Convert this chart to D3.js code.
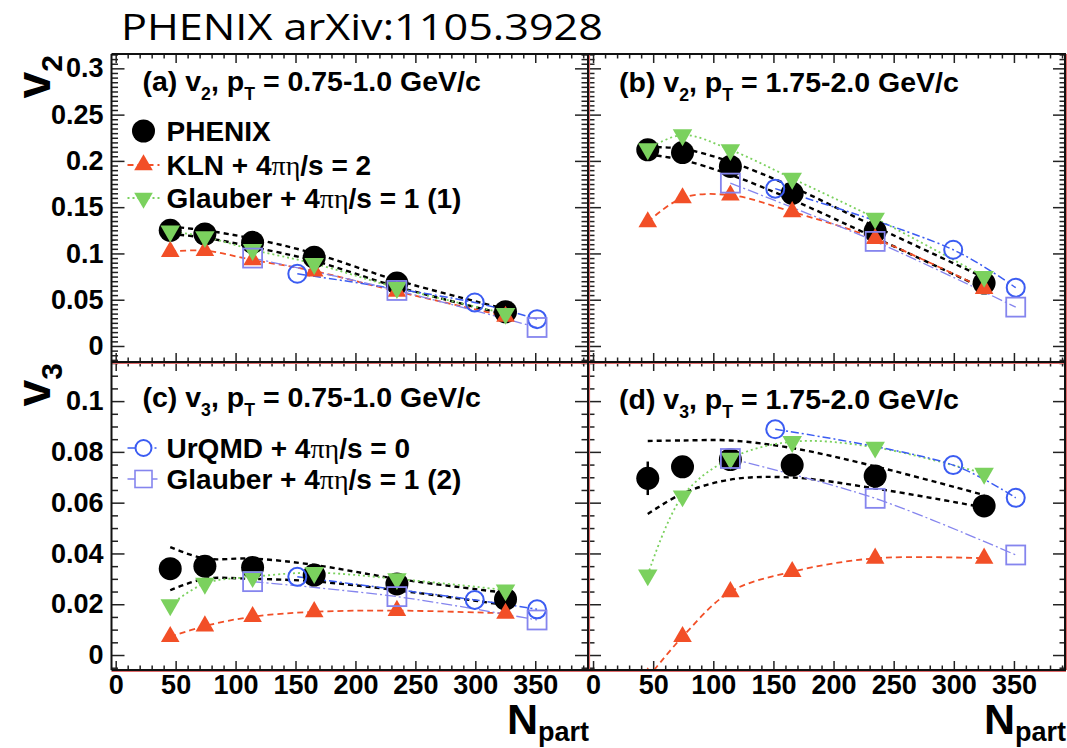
<!DOCTYPE html>
<html><head><meta charset="utf-8">
<script src="https://cdn.jsdelivr.net/npm/d3@7"></script>
<style>body{margin:0;background:#fff}svg{display:block}</style>
</head><body>
<svg id="c" width="1067" height="748"></svg>
<script>
// ---------------- DATA ----------------
const npart = [45.5, 74.4, 114.2, 165.6, 234.6, 325.2];       // PHENIX, KLN, Glauber(1)
const npartUrqmd = [151.5, 299.5, 351.5];
const npartGlauber2 = [114.2, 234.6, 351.5];

// (a) v2, pT = 0.75-1.0
const aPhenix   = [0.125, 0.121, 0.112, 0.096, 0.068, 0.037];
const aErr      = [0.003, 0.003, 0.003, 0.002, 0.002, 0.002];
const aBandHi   = [0.129, 0.125, 0.116, 0.100, 0.071, 0.040];
const aBandLo   = [0.121, 0.117, 0.107, 0.092, 0.064, 0.034];
const aKln      = [0.102, 0.103, 0.093, 0.081, 0.059, 0.032];
const aGlauber1 = [0.124, 0.118, 0.104, 0.089, 0.063, 0.035];
const aUrqmd    = [0.078, 0.047, 0.029];
const aGlauber2 = [0.095, 0.060, 0.020];

// (b) v2, pT = 1.75-2.0
const bPhenix   = [0.212, 0.209, 0.194, 0.165, 0.124, 0.068];
const bErr      = [0.004, 0.004, 0.003, 0.003, 0.003, 0.003];
const bBandHi   = [0.215, 0.213, 0.199, 0.172, 0.129, 0.074];
const bBandLo   = [0.207, 0.201, 0.185, 0.158, 0.117, 0.062];
const bKln      = [0.134, 0.160, 0.163, 0.145, 0.116, 0.062];
const bGlauber1 = [0.213, 0.228, 0.212, 0.181, 0.138, 0.075];
const bUrqmd    = [0.170, 0.104, 0.063];
const bGlauber2 = [0.176, 0.113, 0.042];

// (c) v3, pT = 0.75-1.0
const cPhenix   = [0.0340, 0.0350, 0.0345, 0.0315, 0.0280, 0.0220];
const cErr      = [0.0030, 0.0025, 0.0020, 0.0020, 0.0020, 0.0020];
const cBandHi   = [0.0425, 0.0380, 0.0380, 0.0355, 0.0300, 0.0245];
const cBandLo   = [0.0255, 0.0300, 0.0300, 0.0290, 0.0255, 0.0197];
const cKln      = [0.0072, 0.0114, 0.0151, 0.0170, 0.0175, 0.0164];
const cGlauber1 = [0.0197, 0.0282, 0.0308, 0.0324, 0.0300, 0.0256];
const cUrqmd    = [0.0308, 0.0217, 0.0180];
const cGlauber2 = [0.0289, 0.0230, 0.0138];

// (d) v3, pT = 1.75-2.0
const dPhenix   = [0.0696, 0.0741, 0.0770, 0.0748, 0.0705, 0.0587];
const dErr      = [0.0066, 0.0030, 0.0030, 0.0030, 0.0030, 0.0030];
const dBandHi   = [0.0843, 0.0845, 0.0845, 0.0815, 0.0743, 0.0630];
const dBandLo   = [0.0555, 0.0636, 0.0691, 0.0699, 0.0656, 0.0581];
const dKln      = [-0.0090, 0.0072, 0.0249, 0.0328, 0.0381, 0.0381];
const dGlauber1 = [0.0315, 0.0626, 0.0774, 0.0840, 0.0818, 0.0715];
const dUrqmd    = [0.0889, 0.0748, 0.0619];
const dGlauber2 = [0.0774, 0.0617, 0.0394];

// ticks
const xTicks = [0, 50, 100, 150, 200, 250, 300, 350];
const xTickLabels = ["0", "50", "100", "150", "200", "250", "300", "350"];
const v2Ticks = [0, 0.05, 0.1, 0.15, 0.2, 0.25, 0.3];
const v2TickLabels = ["0", "0.05", "0.1", "0.15", "0.2", "0.25", "0.3"];
const v3Ticks = [0, 0.02, 0.04, 0.06, 0.08, 0.1];
const v3TickLabels = ["0", "0.02", "0.04", "0.06", "0.08", "0.1"];

const legendTop = ["PHENIX", "KLN + 4|πη|/s = 2", "Glauber + 4|πη|/s = 1 (1)"];
const legendBottom = ["UrQMD + 4|πη|/s = 0", "Glauber + 4|πη|/s = 1 (2)"];

// ---------------- LAYOUT / STYLE ----------------
const svg = d3.select("#c");
const FX = [111.5, 588, 1066];
const FY = [54, 362, 670];
const xDomains = [[-3.5, 394], [-4.2, 393.3]];
const yDomains = [[-0.0173, 0.3155], [-0.0059, 0.1154]];
const FONT = "'Liberation Sans', Arial, Helvetica, sans-serif";

const ST = {
  phenix:   {color: "#000"},
  kln:      {color: "#f24f27", dash: "6,4", width: 1.8},
  glauber1: {color: "#7bd15e", dash: "2,3", width: 1.8},
  urqmd:    {color: "#3b5cf2", dash: "8,3,2,3", width: 1.5},
  glauber2: {color: "#8585ee", dash: "11,3,2,3", width: 1.3},
  band:     {color: "#000", dash: "5,4", width: 2.4}
};

function richText(sel, parts, size) {
  parts.forEach(p => {
    const t = sel.append("tspan").text(p.t);
    if (p.sub) t.attr("font-size", size * 0.62).attr("dy", size * 0.3);
    else if (p.back) t.attr("dy", -size * 0.3);
    if (p.greek) t.attr("font-family", "'Liberation Serif', 'DejaVu Serif', serif").attr("font-weight", "normal");
  });
}
function legendParts(label) {
  return label.split("|").map((s, i) => ({t: s, greek: i % 2 === 1}));
}

const panels = [
  {id: "a", col: 0, row: 0, yt: v2Ticks, ytl: v2TickLabels, minorStep: 0.005, majorEvery: 10,
   d: {ph: aPhenix, err: aErr, hi: aBandHi, lo: aBandLo, kln: aKln, g1: aGlauber1, ur: aUrqmd, g2: aGlauber2},
   title: ["(a) v", "2", ", p", "T", " = 0.75-1.0 GeV/c"], ty: 91},
  {id: "b", col: 1, row: 0, yt: v2Ticks, ytl: v2TickLabels, minorStep: 0.005, majorEvery: 10,
   d: {ph: bPhenix, err: bErr, hi: bBandHi, lo: bBandLo, kln: bKln, g1: bGlauber1, ur: bUrqmd, g2: bGlauber2},
   title: ["(b) v", "2", ", p", "T", " = 1.75-2.0 GeV/c"], ty: 92},
  {id: "c", col: 0, row: 1, yt: v3Ticks, ytl: v3TickLabels, minorStep: 0.005, majorEvery: 4,
   d: {ph: cPhenix, err: cErr, hi: cBandHi, lo: cBandLo, kln: cKln, g1: cGlauber1, ur: cUrqmd, g2: cGlauber2},
   title: ["(c) v", "3", ", p", "T", " = 0.75-1.0 GeV/c"], ty: 407},
  {id: "d", col: 1, row: 1, yt: v3Ticks, ytl: v3TickLabels, minorStep: 0.005, majorEvery: 4,
   d: {ph: dPhenix, err: dErr, hi: dBandHi, lo: dBandLo, kln: dKln, g1: dGlauber1, ur: dUrqmd, g2: dGlauber2},
   title: ["(d) v", "3", ", p", "T", " = 1.75-2.0 GeV/c"], ty: 409}
];

const defs = svg.append("defs");

function styleAxis(a) {
  a.select(".domain").remove();
  a.attr("font-family", FONT).attr("font-size", 27).attr("font-weight", "bold");
  a.selectAll("line").attr("stroke", "#222").attr("stroke-width", 1.5);
  a.selectAll("text").attr("fill", "#000");
  return a;
}

panels.forEach(p => {
  const x0 = FX[p.col], x1 = FX[p.col + 1], y0 = FY[p.row], y1 = FY[p.row + 1];
  const x = d3.scaleLinear().domain(xDomains[p.col]).range([x0, x1]);
  const y = d3.scaleLinear().domain(yDomains[p.row]).range([y1, y0]);
  const g = svg.append("g");

  defs.append("clipPath").attr("id", "clip" + p.id).append("rect")
    .attr("x", x0).attr("y", y0).attr("width", x1 - x0).attr("height", y1 - y0);

  const yd = yDomains[p.row];
  const yMinor = d3.range(Math.ceil(yd[0] / p.minorStep), Math.floor(yd[1] / p.minorStep) + 1)
    .filter(i => i % p.majorEvery !== 0).map(i => i * p.minorStep);
  const xMinor = d3.range(0, 40).filter(i => i % 5 !== 0).map(i => i * 10);

  styleAxis(g.append("g").attr("transform", `translate(0,${y1})`)
    .call(d3.axisBottom(x).tickValues(xTicks).tickSize(-9).tickPadding(5)
      .tickFormat((d, i) => p.row === 1 ? xTickLabels[i] : "")));
  styleAxis(g.append("g").attr("transform", `translate(0,${y1})`)
    .call(d3.axisBottom(x).tickValues(xMinor).tickSize(-4.5).tickFormat("")));
  styleAxis(g.append("g").attr("transform", `translate(0,${y0})`)
    .call(d3.axisTop(x).tickValues(xTicks).tickSize(-9).tickFormat("")));
  styleAxis(g.append("g").attr("transform", `translate(0,${y0})`)
    .call(d3.axisTop(x).tickValues(xMinor).tickSize(-4.5).tickFormat("")));
  styleAxis(g.append("g").attr("transform", `translate(${x0},0)`)
    .call(d3.axisLeft(y).tickValues(p.yt).tickSize(-13).tickPadding(8)
      .tickFormat((d, i) => p.col === 0 ? p.ytl[i] : "")));
  styleAxis(g.append("g").attr("transform", `translate(${x0},0)`)
    .call(d3.axisLeft(y).tickValues(yMinor).tickSize(-6.5).tickFormat("")));
  styleAxis(g.append("g").attr("transform", `translate(${x1},0)`)
    .call(d3.axisRight(y).tickValues(p.yt).tickSize(-13).tickFormat("")));
  styleAxis(g.append("g").attr("transform", `translate(${x1},0)`)
    .call(d3.axisRight(y).tickValues(yMinor).tickSize(-6.5).tickFormat("")));

  const plot = g.append("g").attr("clip-path", `url(#clip${p.id})`);
  const curve = (xs, ys) => d3.line().x((d, i) => x(xs[i])).y(d => y(d))
    .curve(d3.curveCatmullRom.alpha(0.5))(ys);
  const drawLine = (xs, ys, st) => plot.append("path").attr("d", curve(xs, ys))
    .attr("fill", "none").attr("stroke", st.color).attr("stroke-width", st.width)
    .attr("stroke-dasharray", st.dash);

  drawLine(npart, p.d.hi, ST.band);
  drawLine(npart, p.d.lo, ST.band);
  drawLine(npart, p.d.kln, ST.kln);
  drawLine(npart, p.d.g1, ST.glauber1);
  drawLine(npartUrqmd, p.d.ur, ST.urqmd);
  drawLine(npartGlauber2, p.d.g2, ST.glauber2);

  p.d.ph.forEach((v, i) => {
    plot.append("line").attr("x1", x(npart[i])).attr("x2", x(npart[i]))
      .attr("y1", y(v - p.d.err[i])).attr("y2", y(v + p.d.err[i]))
      .attr("stroke", "#000").attr("stroke-width", 2.5);
  });
  plot.selectAll(null).data(p.d.ph).join("circle")
    .attr("cx", (d, i) => x(npart[i])).attr("cy", d => y(d)).attr("r", 11.5).attr("fill", "#000");

  const tri = d3.symbol().type(d3.symbolTriangle).size(150);
  plot.selectAll(null).data(p.d.kln).join("path").attr("d", tri)
    .attr("transform", (d, i) => `translate(${x(npart[i])},${y(d)})`).attr("fill", ST.kln.color);
  const tri2 = d3.symbol().type(d3.symbolTriangle).size(165);
  plot.selectAll(null).data(p.d.g1).join("path").attr("d", tri2)
    .attr("transform", (d, i) => `translate(${x(npart[i])},${y(d)}) rotate(180)`).attr("fill", ST.glauber1.color);
  plot.selectAll(null).data(p.d.ur).join("circle")
    .attr("cx", (d, i) => x(npartUrqmd[i])).attr("cy", d => y(d)).attr("r", 9)
    .attr("fill", "none").attr("stroke", ST.urqmd.color).attr("stroke-width", 2);
  plot.selectAll(null).data(p.d.g2).join("rect")
    .attr("x", (d, i) => x(npartGlauber2[i]) - 9.5).attr("y", d => y(d) - 9.5)
    .attr("width", 19).attr("height", 19)
    .attr("fill", "none").attr("stroke", ST.glauber2.color).attr("stroke-width", 1.8);

  const tt = g.append("text").attr("x", x0 + 31).attr("y", p.ty)
    .attr("font-family", FONT).attr("font-weight", "bold").attr("font-size", 28.5).attr("fill", "#000");
  richText(tt, [{t: p.title[0]}, {t: p.title[1], sub: true}, {t: p.title[2], back: true},
                {t: p.title[3], sub: true}, {t: p.title[4], back: true}], 28.5);
});

// frame
const fr = svg.append("g");
[[FX[0], FY[1] + 1.5, FX[2], FY[1] + 1.5], [FX[0], FY[2] + 1.5, FX[2], FY[2] + 1.5],
 [FX[1] + 1.5, FY[0], FX[1] + 1.5, FY[2]], [FX[2] + 0.5, FY[0], FX[2] + 0.5, FY[2]]]
  .forEach(l => fr.append("line").attr("x1", l[0]).attr("y1", l[1]).attr("x2", l[2]).attr("y2", l[3])
    .attr("stroke", "#e06a6a").attr("stroke-width", 1.2));
[[FX[0], FY[0], FX[2], FY[0]], [FX[0], FY[1], FX[2], FY[1]], [FX[0], FY[2], FX[2], FY[2]],
 [FX[0], FY[0], FX[0], FY[2]], [FX[1], FY[0], FX[1], FY[2]], [FX[2] - 1, FY[0], FX[2] - 1, FY[2]]]
  .forEach(l => fr.append("line").attr("x1", l[0]).attr("y1", l[1]).attr("x2", l[2]).attr("y2", l[3])
    .attr("stroke", "#111").attr("stroke-width", 2));

// legends
function legendRow(cx, cy, label, kind) {
  const lg = svg.append("g");
  const st = ST[kind];
  if (kind !== "phenix") {
    lg.append("line").attr("x1", cx - 16).attr("x2", cx + 16).attr("y1", cy).attr("y2", cy)
      .attr("stroke", st.color).attr("stroke-width", st.width).attr("stroke-dasharray", st.dash);
  }
  if (kind === "phenix") lg.append("circle").attr("cx", cx).attr("cy", cy).attr("r", 11.5).attr("fill", "#000");
  if (kind === "kln") lg.append("path").attr("d", d3.symbol().type(d3.symbolTriangle).size(150))
    .attr("transform", `translate(${cx},${cy})`).attr("fill", st.color);
  if (kind === "glauber1") lg.append("path").attr("d", d3.symbol().type(d3.symbolTriangle).size(150))
    .attr("transform", `translate(${cx},${cy}) rotate(180)`).attr("fill", st.color);
  if (kind === "urqmd") lg.append("circle").attr("cx", cx).attr("cy", cy).attr("r", 8)
    .attr("fill", "#fff").attr("stroke", st.color).attr("stroke-width", 2);
  if (kind === "glauber2") lg.append("rect").attr("x", cx - 8.5).attr("y", cy - 8.5).attr("width", 17).attr("height", 17)
    .attr("fill", "#fff").attr("stroke", st.color).attr("stroke-width", 1.6);
  const t = lg.append("text").attr("x", cx + 23).attr("y", cy + 10)
    .attr("font-family", FONT).attr("font-weight", "bold").attr("font-size", 28).attr("fill", "#000");
  richText(t, legendParts(label), 28);
}
legendRow(143.5, 131, legendTop[0], "phenix");
legendRow(143.5, 165, legendTop[1], "kln");
legendRow(143.5, 198, legendTop[2], "glauber1");
legendRow(143.5, 448, legendBottom[0], "urqmd");
legendRow(143.5, 479, legendBottom[1], "glauber2");

// axis titles
function yTitle(cy, sub) {
  const t = svg.append("text").attr("transform", `translate(50,${cy}) rotate(-90)`)
    .attr("text-anchor", "end").attr("font-family", FONT).attr("font-weight", "bold")
    .attr("font-size", 48).attr("fill", "#000");
  t.append("tspan").text("v");
  t.append("tspan").text(sub).attr("font-size", 30).attr("dy", 12);
}
yTitle(55, "2");
yTitle(363, "3");

function xTitle(xr) {
  const t = svg.append("text").attr("x", xr).attr("y", 734).attr("text-anchor", "end")
    .attr("font-family", FONT).attr("font-weight", "bold").attr("font-size", 43).attr("fill", "#000");
  t.append("tspan").text("N");
  t.append("tspan").text("part").attr("font-size", 27).attr("dy", 7);
}
xTitle(589);
xTitle(1066);

// page title
svg.append("text").attr("x", 121).attr("y", 40)
  .attr("font-family", "'Open Sans', 'Noto Sans', sans-serif").attr("font-size", 37)
  .attr("textLength", 482).attr("lengthAdjust", "spacingAndGlyphs").attr("fill", "#000")
  .text("PHENIX arXiv:1105.3928");
</script>
</body></html>
